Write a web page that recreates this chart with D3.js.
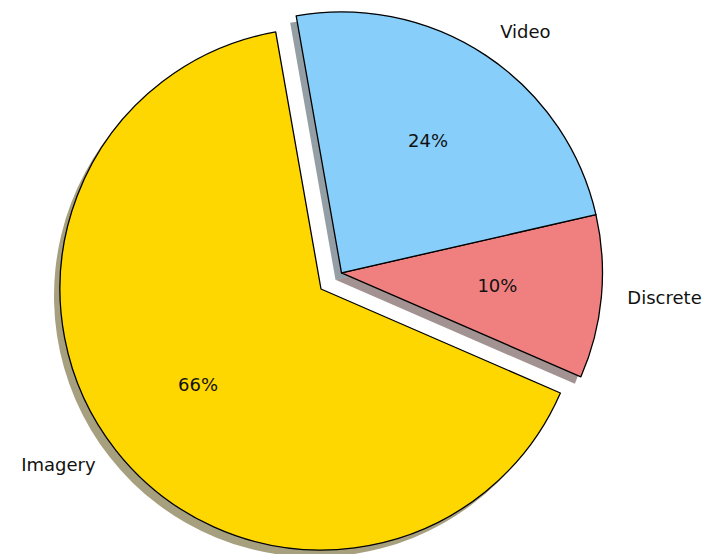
<!DOCTYPE html>
<html>
<head>
<meta charset="utf-8">
<script src="https://cdn.jsdelivr.net/npm/d3@7"></script>
<style>
  body { margin: 0; background: #fff; }
  text { font-family: "DejaVu Sans", sans-serif; }
</style>
</head>
<body>
<svg width="708" height="554"></svg>
<script>
const width = 708, height = 554;
const svg = d3.select("svg");

// slice data (matplotlib-style pie, counter-clockwise)
const labels = ["Imagery", "Discrete", "Video"];
const values = [65.7, 10.1, 24.2];
const colors = ["#ffd700", "#f08080", "#87cefa"];
const explode = [0, 0.1, 0.1];

const cx = 321, cy = 289, r = 261;
const startDeg = 100;          // start angle, degrees CCW from 3 o'clock
const shadowDx = -6, shadowDy = 7;

const toRad = d => d * Math.PI / 180;

// d3 angles run clockwise from 12 o'clock, so go the other way round
const pie = d3.pie()
    .sort(null)
    .value(d => d.value)
    .startAngle(toRad(90 - startDeg))
    .endAngle(toRad(90 - startDeg - 360));

const data = labels.map((name, i) => ({ name, value: values[i], color: colors[i], explode: explode[i] }));
const arcs = pie(data);

// exploded slices move together along the middle of their joint span
const exploded = arcs.filter(a => a.data.explode > 0);
const grpMid = (exploded[0].startAngle + exploded[exploded.length - 1].endAngle) / 2;
arcs.forEach(a => {
    const e = a.data.explode;
    a.dx = e > 0 ? Math.sin(grpMid) * e * r : 0;
    a.dy = e > 0 ? -Math.cos(grpMid) * e * r : 0;
});

const arc = d3.arc().innerRadius(0).outerRadius(r);
const total = d3.sum(values);

const g = svg.append("g").attr("transform", `translate(${cx},${cy})`);

// shadows first, all behind the wedges
g.selectAll(".shadow")
    .data(arcs)
    .enter().append("path")
    .attr("class", "shadow")
    .attr("transform", d => `translate(${d.dx + shadowDx},${d.dy + shadowDy})`)
    .attr("d", arc)
    .attr("fill", d => {
        const c = d3.rgb(d.data.color);
        return d3.rgb(c.r * 0.3, c.g * 0.3, c.b * 0.3);
    })
    .attr("fill-opacity", 0.5);

g.selectAll(".wedge")
    .data(arcs)
    .enter().append("path")
    .attr("class", "wedge")
    .attr("transform", d => `translate(${d.dx},${d.dy})`)
    .attr("d", arc)
    .attr("fill", d => d.data.color)
    .attr("stroke", "black")
    .attr("stroke-width", 1.3)
    .attr("stroke-linejoin", "round");

const mid = d => (d.startAngle + d.endAngle) / 2;

// percentage labels at 0.6 r
g.selectAll(".pct")
    .data(arcs)
    .enter().append("text")
    .attr("class", "pct")
    .attr("x", d => d.dx + Math.sin(mid(d)) * r * 0.6)
    .attr("y", d => d.dy - Math.cos(mid(d)) * r * 0.6)
    .attr("dy", "0.26em")
    .attr("text-anchor", "middle")
    .style("font-size", "18px")
    .attr("fill", "#111")
    .text(d => Math.round(d.value / total * 100) + "%");

// category labels at 1.1 r
g.selectAll(".lbl")
    .data(arcs)
    .enter().append("text")
    .attr("class", "lbl")
    .attr("x", d => d.dx + Math.sin(mid(d)) * r * 1.1)
    .attr("y", d => d.dy - Math.cos(mid(d)) * r * 1.1)
    .attr("dy", "0.26em")
    .attr("text-anchor", d => Math.sin(mid(d)) < 0 ? "end" : "start")
    .style("font-size", "18px")
    .attr("fill", "#111")
    .text(d => d.data.name);
</script>
</body>
</html>
